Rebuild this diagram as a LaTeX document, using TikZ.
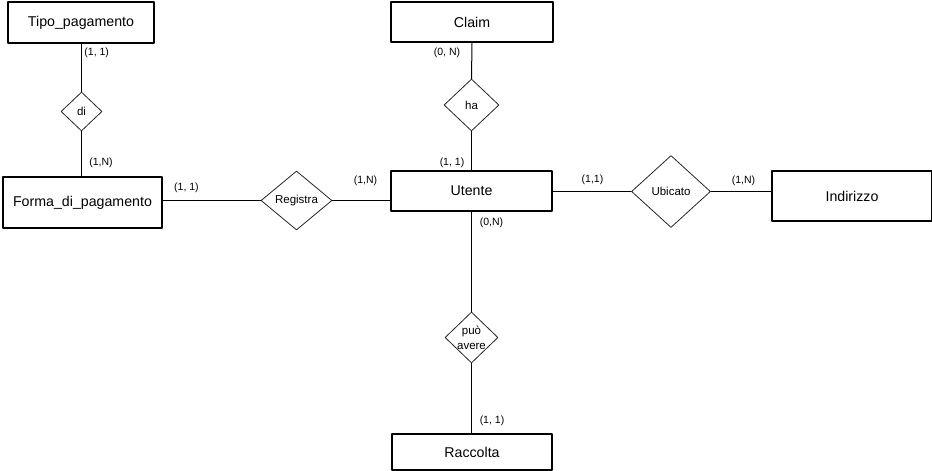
\documentclass[tikz,border=0pt]{standalone}
\usepackage{fontspec}
\setmainfont{Liberation Sans}
\usetikzlibrary{shapes}

\begin{document}
\begin{tikzpicture}[x=1pt, y=-1pt, line cap=round, line join=round,
  entity/.style={draw, rectangle, line width=1.8pt, font=\fontsize{14.2}{16}\selectfont},
  relation/.style={draw=black!85, diamond, inner sep=0pt, line width=0.8pt, align=center, font=\fontsize{11.5}{15}\selectfont},
  card/.style={inner sep=0pt, font=\fontsize{10.5}{12}\selectfont},
  link/.style={line width=1pt}]

\useasboundingbox (0,0) rectangle (932,471);

% entita'
\node[entity, minimum width=146pt, minimum height=41pt] (tipo) at (81,22.5) {Tipo\_pagamento};
\node[entity, minimum width=159pt, minimum height=51pt] (forma) at (82.5,202.5) {Forma\_di\_pagamento};
\node[entity, minimum width=162pt, minimum height=40pt] (claim) at (472,22) {Claim};
\node[entity, minimum width=161pt, minimum height=40pt] (utente) at (471.5,191) {Utente};
\node[entity, minimum width=160pt, minimum height=50pt] (indirizzo) at (852,196) {Indirizzo};
\node[entity, minimum width=160pt, minimum height=36pt] (raccolta) at (472,452) {Raccolta};

% relazioni
\node[relation, minimum width=41pt, minimum height=39pt] (di) at (81.5,111.5) {di};
\node[relation, minimum width=55pt, minimum height=52pt] (ha) at (471.5,105) {ha};
\node[relation, minimum width=71pt, minimum height=59pt] (registra) at (296.5,200.5) {Registra};
\node[relation, minimum width=79pt, minimum height=72pt] (ubicato) at (671,191.5) {Ubicato};
\node[relation, minimum width=53pt, minimum height=51pt, inner sep=-4pt] (puo) at (471.5,337.5) {può\\avere};

% collegamenti
\draw[link] (tipo.south -| di.north) -- (di.north);
\draw[link] (di.south) -- (di.south |- forma.north);
\draw[link] (registra.west -| forma.east) -- (registra.west);
\draw[link] (registra.east) -- (registra.east -| utente.west);
\draw[link] (claim.south) -- (ha.north);
\draw[link] (ha.south) -- (ha.south |- utente.north);
\draw[link] (ubicato.west -| utente.east) -- (ubicato.west);
\draw[link] (ubicato.east) -- (ubicato.east -| indirizzo.west);
\draw[link] (utente.south) -- (puo.north);
\draw[link] (puo.south) -- (puo.south |- raccolta.north);

% cardinalita'
\node[card] (c1) at (96.7,53) {(1, 1)};
\node[card] (c2) at (101,162.5) {(1,N)};
\node[card] (c3) at (186.5,187.5) {(1, 1)};
\node[card] (c4) at (365.5,180.5) {(1,N)};
\node[card] (c5) at (447,52.5) {(0, N)};
\node[card] (c6) at (452,162.5) {(1, 1)};
\node[card] (c7) at (592.5,180) {(1,1)};
\node[card] (c8) at (743.5,181) {(1,N)};
\node[card] (c9) at (491.5,222.5) {(0,N)};
\node[card] (c10) at (492,421) {(1, 1)};
\end{tikzpicture}
\end{document}
